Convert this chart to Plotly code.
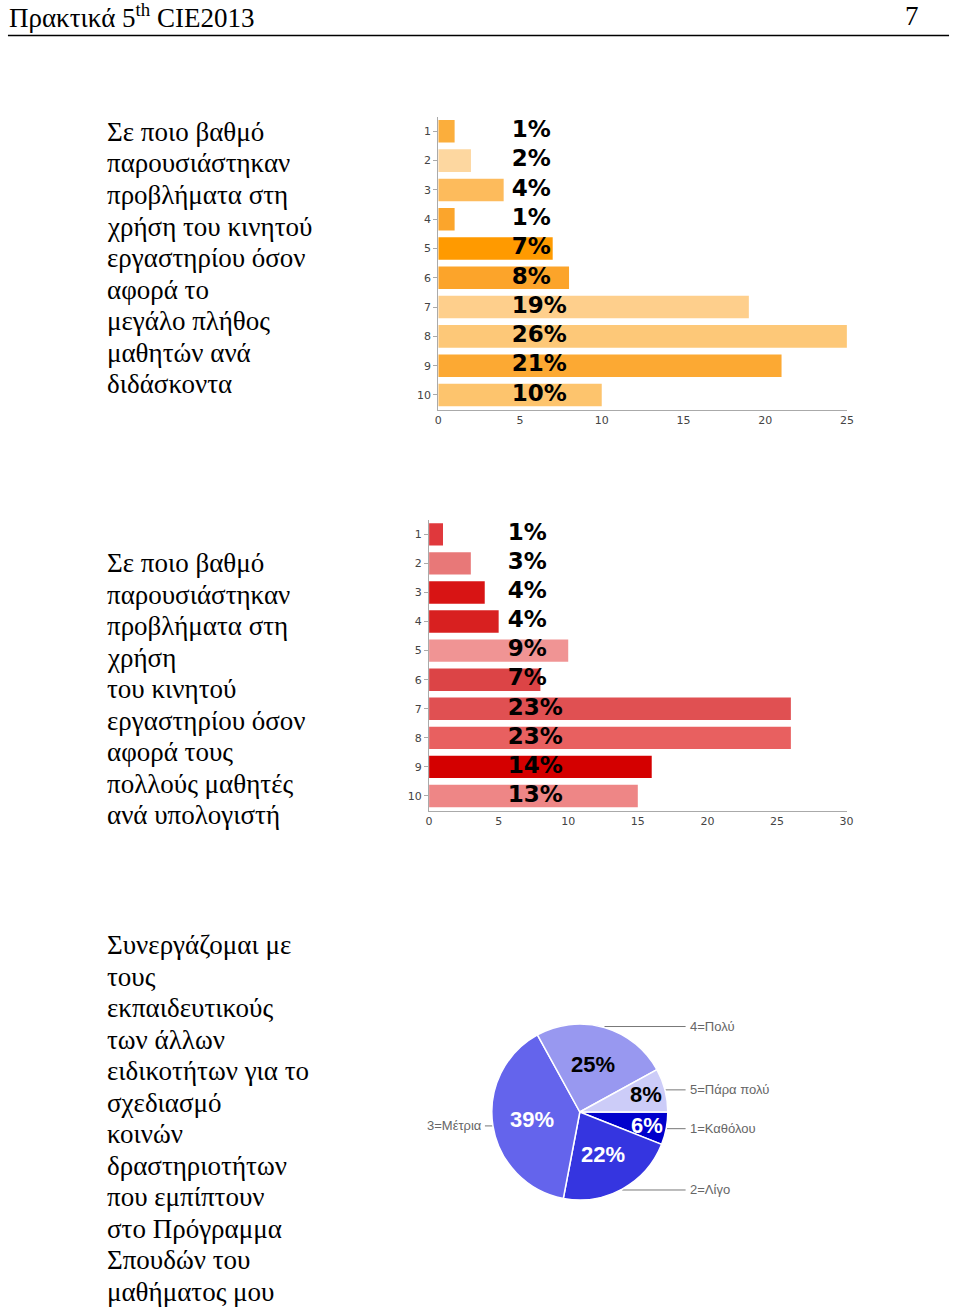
import math
import plotly.graph_objects as go

W, H = 960, 1309

# ---------------- data ----------------
cat1 = [1, 2, 3, 4, 5, 6, 7, 8, 9, 10]
vals1 = [1, 2, 4, 1, 7, 8, 19, 25, 21, 10]
pct1 = ["1%", "2%", "4%", "1%", "7%", "8%", "19%", "26%", "21%", "10%"]
colors1 = ["#FBAE3C", "#FDD7A0", "#FDBB5C", "#FBA52C", "#FF9A00",
           "#FCA42A", "#FECF8C", "#FDC878", "#FCA933", "#FDC46D"]
xticks1 = [0, 5, 10, 15, 20, 25]

cat2 = [1, 2, 3, 4, 5, 6, 7, 8, 9, 10]
vals2 = [1, 3, 4, 5, 10, 8, 26, 26, 16, 15]
pct2 = ["1%", "3%", "4%", "4%", "9%", "7%", "23%", "23%", "14%", "13%"]
colors2 = ["#E0383C", "#E87878", "#D81414", "#D82020", "#F09494",
           "#DC4446", "#E05052", "#E86060", "#D40000", "#EE8686"]
xticks2 = [0, 5, 10, 15, 20, 25, 30]

pie_labels = ["1=Καθόλου", "2=Λίγο", "3=Μέτρια", "4=Πολύ", "5=Πάρα πολύ"]
pie_vals = [6, 22, 39, 25, 8]
pie_colors = ["#0000CC", "#3535E0", "#6464EC", "#9898F0", "#CCCCF8"]
pie_text_colors = ["white", "white", "white", "black", "black"]

text1 = ["Σε ποιο βαθμό", "παρουσιάστηκαν", "προβλήματα στη", "χρήση του κινητού",
         "εργαστηρίου όσον", "αφορά το", "μεγάλο πλήθος", "μαθητών ανά", "διδάσκοντα"]
text2 = ["Σε ποιο βαθμό", "παρουσιάστηκαν", "προβλήματα στη", "χρήση",
         "του κινητού", "εργαστηρίου όσον", "αφορά τους", "πολλούς μαθητές",
         "ανά υπολογιστή"]
text3 = ["Συνεργάζομαι με", "τους", "εκπαιδευτικούς", "των άλλων",
         "ειδικοτήτων για το", "σχεδιασμό", "κοινών", "δραστηριοτήτων",
         "που εμπίπτουν", "στο Πρόγραμμα", "Σπουδών του", "μαθήματος μου"]

# ---------------- helpers ----------------
def px_x(x):
    return x / W

def px_y(y):
    return 1 - y / H

fig = go.Figure()

SERIF = "Liberation Serif, Times New Roman, serif"
SANS = "DejaVu Sans, Verdana, sans-serif"
ARIAL = "Liberation Sans, Arial, sans-serif"

# ---------------- bar chart 1 ----------------
fig.add_trace(go.Bar(x=vals1, y=cat1, orientation="h", marker_color=colors1,
                     marker_line_width=0, width=0.77, xaxis="x", yaxis="y",
                     hoverinfo="skip", showlegend=False))
fig.add_trace(go.Scatter(x=[4.5] * len(cat1), y=cat1, mode="text", text=pct1,
                         textposition="middle right",
                         textfont=dict(family=SANS, size=23, color="black", weight="bold"),
                         xaxis="x", yaxis="y", hoverinfo="skip", showlegend=False,
                         cliponaxis=False))

# ---------------- bar chart 2 ----------------
fig.add_trace(go.Bar(x=vals2, y=cat2, orientation="h", marker_color=colors2,
                     marker_line_width=0, width=0.77, xaxis="x2", yaxis="y2",
                     hoverinfo="skip", showlegend=False))
fig.add_trace(go.Scatter(x=[5.65] * len(cat2), y=cat2, mode="text", text=pct2,
                         textposition="middle right",
                         textfont=dict(family=SANS, size=23, color="black", weight="bold"),
                         xaxis="x2", yaxis="y2", hoverinfo="skip", showlegend=False,
                         cliponaxis=False))

# ---------------- pie ----------------
cx, cy, r = 582.5, 1112.0, 89.0
fig.add_trace(go.Pie(labels=pie_labels, values=pie_vals, sort=False,
                     direction="clockwise", rotation=90,
                     marker=dict(colors=pie_colors, line=dict(color="white", width=1.5)),
                     textinfo="none", hoverinfo="skip", showlegend=False,
                     domain=dict(x=[px_x(cx - r), px_x(cx + r)],
                                 y=[px_y(cy + r), px_y(cy - r)])))

total = sum(pie_vals)
cum = 0.0
for lab, v, col in zip(pie_labels, pie_vals, pie_text_colors):
    a0 = cum / total * 2 * math.pi
    cum += v
    a1 = cum / total * 2 * math.pi
    mid = (a0 + a1) / 2
    frac = 0.55 if v / total >= 0.15 else 0.78
    fig.add_annotation(x=cx + frac * r * math.cos(mid), y=cy + frac * r * math.sin(mid),
                       xref="x3", yref="y3", text=f"{round(v / total * 100)}%",
                       showarrow=False, xanchor="center", yanchor="middle",
                       font=dict(family=ARIAL, size=22, color=col, weight="bold"))
    px0 = cx + r * math.cos(mid)
    py0 = cy + r * math.sin(mid)
    if math.cos(mid) >= 0:
        xe = cx + r + 18
        fig.add_trace(go.Scatter(x=[px0, xe], y=[py0, py0], mode="lines",
                                 line=dict(color="#777777", width=1),
                                 xaxis="x3", yaxis="y3", hoverinfo="skip",
                                 showlegend=False))
        fig.add_annotation(x=xe + 2, y=py0, xref="x3", yref="y3", text=lab,
                           showarrow=False, xanchor="left", yanchor="middle",
                           font=dict(family=ARIAL, size=13, color="#666666"))
    else:
        xe = cx - r - 7
        fig.add_trace(go.Scatter(x=[xe, px0], y=[py0, py0], mode="lines",
                                 line=dict(color="#777777", width=1),
                                 xaxis="x3", yaxis="y3", hoverinfo="skip",
                                 showlegend=False))
        fig.add_annotation(x=xe - 1, y=py0, xref="x3", yref="y3", text=lab,
                           showarrow=False, xanchor="right", yanchor="middle",
                           font=dict(family=ARIAL, size=13, color="#666666"))

# ---------------- axes ----------------
axis_common = dict(showgrid=False, zeroline=False, showline=True,
                   linecolor="#AAAAAA", linewidth=1,
                   tickfont=dict(family=SANS, size=11, color="#444444"))

fig.update_layout(
    xaxis=dict(domain=[px_x(439.3), px_x(852.7)], range=[0, 25], tickvals=xticks1,
               ticks="", anchor="y", **axis_common),
    yaxis=dict(domain=[px_y(409.6), px_y(116.7)], range=[10.5, 0.5], tickvals=cat1,
               ticks="outside", ticklen=4, tickcolor="#AAAAAA", anchor="x",
               **axis_common),
    xaxis2=dict(domain=[px_x(430.0), px_x(852.3)], range=[0, 30], tickvals=xticks2,
                ticks="", anchor="y2", **axis_common),
    yaxis2=dict(domain=[px_y(810.5), px_y(519.8)], range=[10.5, 0.5], tickvals=cat2,
                ticks="outside", ticklen=4, tickcolor="#AAAAAA", anchor="x2",
                **axis_common),
    xaxis3=dict(domain=[0, 1], range=[0, W], visible=False, anchor="y3"),
    yaxis3=dict(domain=[0, 1], range=[H, 0], visible=False, anchor="x3"),
)

# ---------------- page texts ----------------
LINE_H = 31.5

def add_block(lines, y_first_center):
    for i, line in enumerate(lines):
        fig.add_annotation(x=px_x(102), y=px_y(y_first_center + i * LINE_H),
                           xref="paper", yref="paper", text=line, showarrow=False,
                           xanchor="left", yanchor="middle", align="left",
                           font=dict(family=SERIF, size=27, color="black"))

add_block(text1, 132)
add_block(text2, 563)
add_block(text3, 945)

fig.add_annotation(x=px_x(3), y=px_y(16), xref="paper", yref="paper",
                   text="Πρακτικά 5<sup>th</sup> CIE2013", showarrow=False,
                   xanchor="left", yanchor="middle",
                   font=dict(family=SERIF, size=27, color="black"))
fig.add_annotation(x=px_x(928), y=px_y(16), xref="paper", yref="paper",
                   text="7", showarrow=False, xanchor="right", yanchor="middle",
                   font=dict(family=SERIF, size=27, color="black"))
fig.add_shape(type="line", xref="paper", yref="paper",
              x0=px_x(4), x1=px_x(956), y0=px_y(35.5), y1=px_y(35.5),
              line=dict(color="black", width=1.5))

fig.update_layout(width=W, height=H, margin=dict(l=0, r=0, t=0, b=0),
                  paper_bgcolor="white", plot_bgcolor="rgba(0,0,0,0)",
                  bargap=0.2)

fig.write_html("out.html",
               config={"displayModeBar": False, "responsive": False},
               post_script="document.documentElement.style.margin='0px';"
                           "document.body.style.margin='0px';"
                           "document.body.style.padding='0px';"
                           "document.documentElement.style.overflow='hidden';"
                           "document.body.style.overflow='hidden';")
